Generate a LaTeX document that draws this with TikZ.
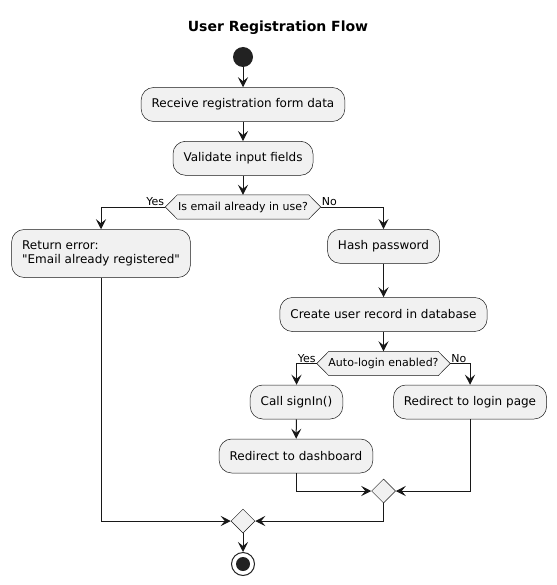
\documentclass[tikz,border=0pt]{standalone}
\usepackage{fontspec}
\setmainfont{DejaVu Sans}[Ligatures=TeXOff]
\usetikzlibrary{arrows.meta,shapes.geometric}
\definecolor{boxfill}{HTML}{F1F1F1}
\definecolor{ln}{HTML}{181818}
\definecolor{dot}{HTML}{222222}
\pgfdeclarelayer{bg}
\pgfsetlayers{bg,main}
\begin{document}
\begin{tikzpicture}[x=1pt,y=-1pt,
  act/.style={draw=ln, line width=0.5pt, fill=boxfill, rounded corners=12.5pt,
    minimum height=34pt, inner xsep=10.5pt, inner ysep=0pt,
    font=\fontsize{12}{14}\selectfont, text=black},
  dec/.style={inner sep=0pt, minimum height=24pt, font=\fontsize{11}{13}\selectfont},
  decdraw/.style={draw=ln, line width=0.5pt, fill=boxfill},
  merge/.style={diamond, draw=ln, line width=0.5pt, fill=boxfill,
    minimum width=24pt, minimum height=24pt, inner sep=0pt},
  flow/.style={draw=ln, line width=1pt, -{Stealth[length=10pt,width=10pt,inset=4pt]}},
  lbl/.style={font=\fontsize{11}{13}\selectfont, inner sep=1pt},
]
\useasboundingbox (0,0) rectangle (556,585);

\node[font=\bfseries\fontsize{14}{16}\selectfont] (title) at (278,28) {User Registration Flow};

\node[circle, fill=dot, minimum size=20pt, inner sep=0pt] (start) at (243,57) {};
\node[act] (recv) at (243,104.5) {Receive registration form data};
\node[act] (valid) at (243,158.3) {Validate input fields};
\node[dec, minimum width=155pt] (d1) at (243,207) {Is email already in use?};
\node[act, minimum height=48pt, align=left] (ret) at (101,253.5) {Return error:\\"Email already registered"};
\node[act] (hash) at (383.5,246.3) {Hash password};
\node[act] (create) at (383.5,314.5) {Create user record in database};
\node[dec, minimum width=133pt] (d2) at (383.5,363.5) {Auto-login enabled?};
\node[act] (sign) at (296.5,402) {Call signIn()};
\node[act] (login) at (470,402) {Redirect to login page};
\node[act] (dash) at (296,456) {Redirect to dashboard};
\node[merge] (m1) at (383.5,491) {};
\node[merge] (m2) at (243,521) {};
\node[circle, draw=dot, line width=1pt, fill=white, minimum size=23pt, inner sep=0pt] (stop) at (243,564) {};
\fill[dot] (stop.center) circle[radius=7pt];

\begin{pgfonlayer}{bg}
\foreach \d in {d1,d2}{
  \draw[decdraw] (\d.west) -- ([xshift=12pt]\d.north west) -- ([xshift=-12pt]\d.north east)
    -- (\d.east) -- ([xshift=-12pt]\d.south east) -- ([xshift=12pt]\d.south west) -- cycle;
}
\end{pgfonlayer}

\draw[flow] (start) -- (recv);
\draw[flow] (recv) -- (valid);
\draw[flow] (valid) -- (d1);
\draw[flow] (d1.west) -| (ret.north);
\node[lbl, anchor=south east] (y1) at (d1.west) {Yes};
\draw[flow] (d1.east) -| (hash.north);
\node[lbl, anchor=south west] (n1) at (d1.east) {No};
\draw[flow] (hash) -- (create);
\draw[flow] (create) -- (d2);
\draw[flow] (d2.west) -| (sign.north);
\node[lbl, anchor=south east] (y2) at (d2.west) {Yes};
\draw[flow] (d2.east) -| (login.north);
\node[lbl, anchor=south west] (n2) at (d2.east) {No};
\draw[flow] (sign) -- (dash);
\draw[flow] (dash.south) |- (m1.west);
\draw[flow] (login.south) |- (m1.east);
\draw[flow] (ret.south) |- (m2.west);
\draw[flow] (m1.south) |- (m2.east);
\draw[flow] (m2) -- (stop);
\end{tikzpicture}
\end{document}
